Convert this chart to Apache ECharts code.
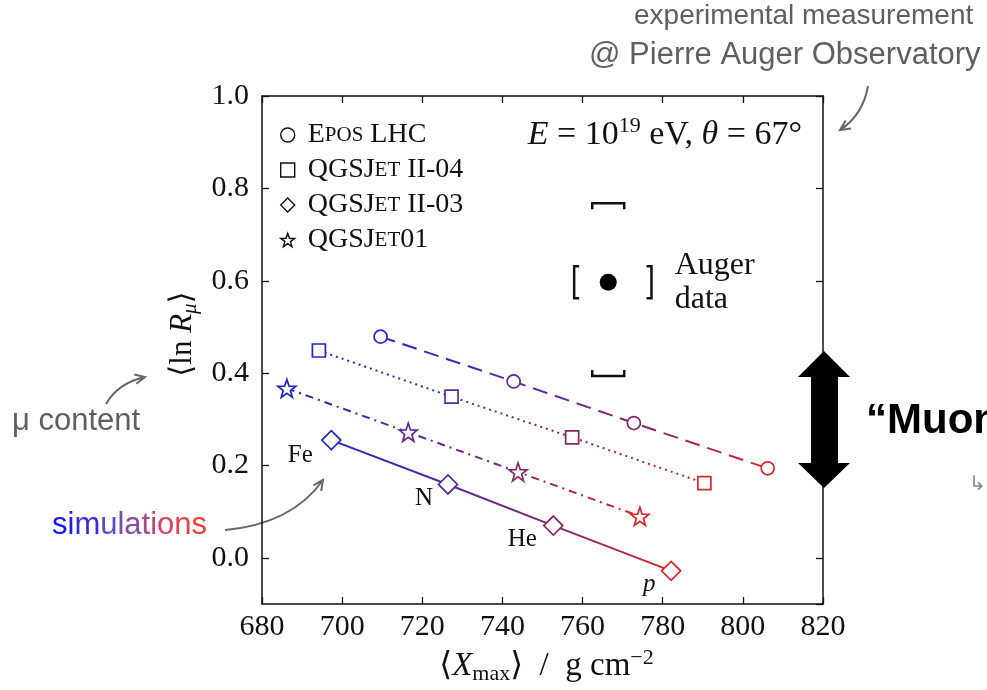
<!DOCTYPE html>
<html>
<head>
<meta charset="utf-8">
<script src="https://cdn.jsdelivr.net/npm/echarts@6/dist/echarts.min.js"></script>
<style>
html, body { margin: 0; padding: 0; background: #fff; }
#main { width: 987px; height: 690px; }
</style>
</head>
<body>
<div id="main"></div>
<script>
// model predictions, <Xmax> (g/cm2) vs <ln R_mu>, ordered Fe, N, He, p
var eposX = [709.6, 742.8, 772.8, 806.2];
var eposY = [0.479, 0.382, 0.292, 0.194];
var qgsII04X = [694.2, 727.3, 757.4, 790.4];
var qgsII04Y = [0.449, 0.349, 0.261, 0.162];
var qgsII03X = [697.3, 726.4, 752.7, 782.1];
var qgsII03Y = [0.255, 0.159, 0.070, -0.028];
var qgs01X = [686.2, 716.5, 743.9, 774.3];
var qgs01Y = [0.367, 0.272, 0.186, 0.090];
var primaries = ['Fe', 'N', 'He', 'p'];

// Auger measurement with systematic brackets
var augerPoint = [766.4, 0.597];
var augerSysX = [757.9, 777.2];
var augerSysY = [0.394, 0.768];

var xRange = [680, 820];
var yRange = [-0.1, 1.0];

var pointColors = ['#2424c8', '#5a2b9c', '#852868', '#dd2626'];
var simColors = ['#1414f4', '#1c1cf0', '#3a2edc', '#5b4cc2', '#6f50b2', '#8a4aa0', '#a84a88', '#c04878', '#d84462', '#ea4048', '#f03c3c'];

var serif = '"Liberation Serif", "DejaVu Serif", serif';
var sans = '"Liberation Sans", Arial, sans-serif';
var starPath = 'path://M0,-10L2.35,-3.24L9.51,-3.09L3.8,1.24L5.88,8.09L0,4L-5.88,8.09L-3.8,1.24L-9.51,-3.09L-2.35,-3.24Z';

var legendLabels = {
  'EPOS LHC': '{t|E}{s|POS} {t|LHC}',
  'QGSJET II-04': '{t|QGSJ}{s|ET} {t|II-04}',
  'QGSJET II-03': '{t|QGSJ}{s|ET} {t|II-03}',
  'QGSJET01': '{t|QGSJ}{s|ET}{t|01}'
};

var labelOffsets = [[-31, 15], [-24, 14], [-31, 14], [-22, 14]];

var myChart = echarts.init(document.getElementById('main'));

function gradient() {
  return new echarts.graphic.LinearGradient(0, 0, 1, 0, [
    { offset: 0, color: pointColors[0] },
    { offset: 0.35, color: pointColors[1] },
    { offset: 0.68, color: pointColors[2] },
    { offset: 1, color: pointColors[3] }
  ]);
}

function modelSeries(name, xs, ys, symbol, size, dash, withLabels) {
  return {
    name: name,
    type: 'line',
    symbol: symbol,
    symbolSize: size,
    z: 3,
    lineStyle: { width: 2, type: dash, color: gradient() },
    data: xs.map(function (x, i) {
      var d = {
        value: [x, ys[i]],
        itemStyle: { color: '#fff', borderColor: pointColors[i], borderWidth: 1.7 }
      };
      if (withLabels) {
        d.label = {
          show: true, position: 'inside', offset: labelOffsets[i],
          formatter: primaries[i], fontFamily: serif, fontSize: 25, color: '#111',
          fontStyle: primaries[i] === 'p' ? 'italic' : 'normal'
        };
      }
      return d;
    })
  };
}

function curvedArrow(x1, y1, cx, cy, x2, y2, color) {
  var dx = x2 - cx, dy = y2 - cy, L = Math.sqrt(dx * dx + dy * dy);
  dx /= L; dy /= L;
  var h = 11, a = 0.45, ca = Math.cos(a), sa = Math.sin(a);
  var p1 = [x2 - h * (dx * ca - dy * sa), y2 - h * (dy * ca + dx * sa)];
  var p2 = [x2 - h * (dx * ca + dy * sa), y2 - h * (dy * ca - dx * sa)];
  return [
    { type: 'bezierCurve', shape: { x1: x1, y1: y1, x2: x2, y2: y2, cpx1: cx, cpy1: cy }, style: { stroke: color, lineWidth: 2, fill: null } },
    { type: 'polyline', shape: { points: [p1, [x2, y2], p2] }, style: { stroke: color, lineWidth: 2, fill: null } }
  ];
}

var simRich = {};
var simText = '';
'simulations'.split('').forEach(function (ch, i) {
  simRich['c' + i] = { fill: simColors[i], fontFamily: sans, fontSize: 31 };
  simText += '{c' + i + '|' + ch + '}';
});

var axisCommon = {
  type: 'value',
  axisLine: { onZero: false, lineStyle: { color: '#111', width: 1.5 } },
  axisTick: { inside: true, length: 7, lineStyle: { color: '#111', width: 1.3 } },
  splitLine: { show: false }
};

var graphics = []
  .concat(curvedArrow(868, 86, 863, 115, 840, 130, '#666'))
  .concat(curvedArrow(106, 404, 118, 383, 145, 377, '#666'))
  .concat(curvedArrow(225, 530, 292, 524, 323, 480, '#666'))
  .concat([
    { type: 'text', left: 634, top: 2, style: { text: 'experimental measurement', font: '28px ' + sans, fill: '#5f5f5f' } },
    { type: 'text', left: 589, top: 40, style: { text: '@ Pierre Auger Observatory', font: '31px ' + sans, fill: '#5f5f5f' } },
    { type: 'text', left: 12, top: 406, style: { text: 'μ content', font: '31px ' + sans, fill: '#5f5f5f' } },
    { type: 'text', left: 52, top: 510, style: { text: simText, rich: simRich } },
    {
      type: 'polygon', z: 100,
      shape: { points: [[824, 351], [850, 377], [838, 377], [838, 463], [850, 463], [824, 488], [798, 463], [811, 463], [811, 377], [798, 377]] },
      style: { fill: '#000' }
    },
    { type: 'text', left: 866, top: 400, style: { text: '“Muon puzzle”', font: 'bold 42px ' + sans, fill: '#000' } },
    { type: 'text', left: 969, top: 474, style: { text: '↳', font: '20px ' + sans, fill: '#888' } }
  ]);

myChart.setOption({
  animation: false,
  title: {
    text: '{i|E} = 10{sup|19} eV, {i|θ} = 67°',
    right: 180,
    top: 110,
    textStyle: {
      fontFamily: serif, fontWeight: 'normal', fontSize: 34, color: '#111', lineHeight: 40,
      rich: {
        i: { fontStyle: 'italic', fontFamily: serif, fontSize: 34, lineHeight: 40 },
        sup: { fontFamily: serif, fontSize: 22, lineHeight: 22, verticalAlign: 'top' }
      }
    }
  },
  legend: {
    orient: 'vertical',
    left: 275,
    top: 116,
    itemWidth: 14,
    itemHeight: 14,
    itemGap: 7,
    data: [
      { name: 'EPOS LHC', icon: 'circle' },
      { name: 'QGSJET II-04', icon: 'rect' },
      { name: 'QGSJET II-03', icon: 'diamond' },
      { name: 'QGSJET01', icon: starPath }
    ],
    itemStyle: { color: '#fff', borderColor: '#111', borderWidth: 1.4 },
    formatter: function (n) { return legendLabels[n]; },
    textStyle: {
      fontFamily: serif, fontSize: 28, lineHeight: 28, color: '#111', padding: [0, 0, 0, 8],
      rich: {
        t: { fontFamily: serif, fontSize: 28, color: '#111' },
        s: { fontFamily: serif, fontSize: 21, color: '#111' }
      }
    }
  },
  grid: { left: 262, right: 164, top: 96, bottom: 84 },
  xAxis: [
    Object.assign({}, axisCommon, {
      min: xRange[0], max: xRange[1], interval: 20, position: 'bottom',
      name: '⟨{i|X}{sub|max}⟩  /  g cm{sup|−2}',
      nameLocation: 'middle', nameGap: 38,
      nameTextStyle: {
        fontFamily: serif, fontSize: 33, color: '#111', lineHeight: 38, padding: [0, 0, 0, 8],
        rich: {
          i: { fontStyle: 'italic', fontFamily: serif, fontSize: 33, lineHeight: 38 },
          sub: { fontFamily: serif, fontSize: 22, lineHeight: 28, verticalAlign: 'bottom' },
          sup: { fontFamily: serif, fontSize: 22, lineHeight: 22, verticalAlign: 'top' }
        }
      },
      axisLabel: { fontFamily: serif, fontSize: 30, color: '#111', margin: 8 }
    }),
    Object.assign({}, axisCommon, {
      min: xRange[0], max: xRange[1], interval: 20, position: 'top',
      axisLabel: { show: false }
    })
  ],
  yAxis: [
    Object.assign({}, axisCommon, {
      min: yRange[0], max: yRange[1], position: 'left',
      name: '⟨ln {i|R}{sub|μ}⟩',
      nameLocation: 'middle', nameGap: 55, nameRotate: 90,
      nameTextStyle: {
        fontFamily: serif, fontSize: 31, color: '#111', lineHeight: 36, padding: [0, 0, 0, 32],
        rich: {
          i: { fontStyle: 'italic', fontFamily: serif, fontSize: 31, lineHeight: 36 },
          sub: { fontStyle: 'italic', fontFamily: serif, fontSize: 21, lineHeight: 26, verticalAlign: 'bottom' }
        }
      },
      axisLabel: {
        fontFamily: serif, fontSize: 30, color: '#111', margin: 13, showMinLabel: false,
        formatter: function (v) { return v.toFixed(1); }
      }
    }),
    Object.assign({}, axisCommon, {
      min: yRange[0], max: yRange[1], position: 'right',
      axisLabel: { show: false }
    })
  ],
  series: [
    modelSeries('EPOS LHC', eposX, eposY, 'circle', 13, [15, 8], false),
    modelSeries('QGSJET II-04', qgsII04X, qgsII04Y, 'rect', 13, [2, 4], false),
    modelSeries('QGSJET II-03', qgsII03X, qgsII03Y, 'diamond', 19, 'solid', true),
    modelSeries('QGSJET01', qgs01X, qgs01Y, starPath, 18, [8, 5, 2, 5], false),
    {
      name: 'Auger',
      type: 'scatter',
      symbol: 'circle',
      symbolSize: 17,
      z: 4,
      itemStyle: { color: '#000', opacity: 1 },
      label: {
        show: true, position: 'right', distance: 58,
        formatter: 'Auger\ndata', fontFamily: serif, fontSize: 32, lineHeight: 34, color: '#111', align: 'left'
      },
      data: [augerPoint]
    },
    {
      name: 'Auger sys',
      type: 'custom',
      z: 4,
      data: [[augerPoint[0], augerPoint[1], augerSysX[0], augerSysX[1], augerSysY[0], augerSysY[1]]],
      renderItem: function (params, api) {
        var c = api.coord([api.value(0), api.value(1)]);
        var xl = api.coord([api.value(2), api.value(1)])[0];
        var xr = api.coord([api.value(3), api.value(1)])[0];
        var yb = api.coord([api.value(0), api.value(4)])[1];
        var yt = api.coord([api.value(0), api.value(5)])[1];
        var s = { stroke: '#111', lineWidth: 2.5, fill: null };
        var w = 16, t = 6;
        return {
          type: 'group',
          children: [
            { type: 'polyline', shape: { points: [[c[0] - w, yt + t], [c[0] - w, yt], [c[0] + w, yt], [c[0] + w, yt + t]] }, style: s },
            { type: 'polyline', shape: { points: [[c[0] - w, yb - t], [c[0] - w, yb], [c[0] + w, yb], [c[0] + w, yb - t]] }, style: s },
            { type: 'polyline', shape: { points: [[xl + 5, c[1] - w], [xl, c[1] - w], [xl, c[1] + w], [xl + 5, c[1] + w]] }, style: s },
            { type: 'polyline', shape: { points: [[xr - 5, c[1] - w], [xr, c[1] - w], [xr, c[1] + w], [xr - 5, c[1] + w]] }, style: s }
          ]
        };
      }
    }
  ],
  graphic: graphics
});
</script>
</body>
</html>
